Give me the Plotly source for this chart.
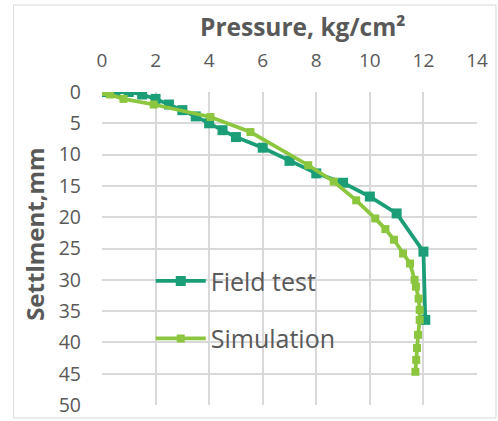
import plotly.graph_objects as go

# Load-settlement data: pressure (kg/cm²) vs settlement (mm)
field_pressure = [0, 0.5, 1.0, 1.5, 2.0, 2.5, 3.0, 3.5, 4.0, 4.5, 5.0, 6.0, 7.0, 8.0, 9.0, 10.0, 11.0, 12.0, 12.07]
field_settlement = [0, 0, 0, 0.4, 1.1, 2.0, 2.9, 3.9, 5.0, 6.1, 7.2, 8.9, 11.0, 13.0, 14.5, 16.7, 19.4, 25.5, 36.4]

sim_pressure = [0, 0.3, 0.8, 1.93, 4.05, 5.54, 7.7, 8.65, 9.49, 10.2, 10.58, 10.9, 11.24, 11.5,
                11.67, 11.72, 11.82, 11.86, 11.86, 11.8, 11.76, 11.73, 11.7]
sim_settlement = [0, 0.4, 1.1, 2.0, 4.0, 6.4, 11.7, 14.3, 17.3, 20.2, 21.9, 23.6, 25.8, 27.4,
                  30.0, 31.1, 33.0, 34.8, 36.4, 38.8, 40.9, 42.8, 44.7]

x_ticks = [0, 2, 4, 6, 8, 10, 12, 14]
y_ticks = [0, 5, 10, 15, 20, 25, 30, 35, 40, 45, 50]

FONT = "'Open Sans', sans-serif"
TEXT = "#595959"
GRID = "#d9d9d9"

fig = go.Figure()
fig.add_trace(go.Scatter(
    x=field_pressure, y=field_settlement, name="Field test", legendgroup="a",
    mode="lines+markers",
    line=dict(color="#1b9e77", width=3.75),
    marker=dict(symbol="square", size=10, color="#1b9e77"),
))
fig.add_trace(go.Scatter(
    x=sim_pressure, y=sim_settlement, name="Simulation", legendgroup="b",
    mode="lines+markers",
    line=dict(color="#8cc63f", width=3.75),
    marker=dict(symbol="square", size=8, color="#8cc63f"),
))

fig.update_layout(
    width=498, height=421,
    margin=dict(l=101.5, r=21, t=92, b=16, autoexpand=False),
    paper_bgcolor="white", plot_bgcolor="white",
    font=dict(family=FONT, color=TEXT),
    showlegend=True,
    legend=dict(
        x=0.13, y=0.469, xanchor="left", yanchor="top",
        bgcolor="rgba(0,0,0,0)",
        font=dict(size=25, color=TEXT, family=FONT),
        tracegroupgap=22, itemwidth=50,
    ),
    xaxis=dict(
        side="top", range=[0, 14], tickvals=x_ticks,
        showgrid=True, gridcolor=GRID, gridwidth=1.5,
        zeroline=False, showline=False, ticks="", automargin=False,
        ticklabelstandoff=20,
        tickfont=dict(size=19, color=TEXT, family=FONT),
    ),
    yaxis=dict(
        range=[50, 0], tickvals=y_ticks,
        showgrid=True, gridcolor=GRID, gridwidth=1.5,
        zeroline=False, showline=False, ticks="", automargin=False,
        ticklabelstandoff=20,
        tickfont=dict(size=19.5, color=TEXT, family=FONT),
    ),
    shapes=[dict(
        type="rect", xref="paper", yref="paper",
        x0=-0.2357, x1=1.0506, y0=-0.0415, y1=1.278,
        line=dict(color=GRID, width=1), fillcolor="rgba(0,0,0,0)", layer="below",
    )],
    annotations=[
        dict(text="<b>Pressure, kg/cm²</b>", xref="paper", yref="paper",
             x=0.537, y=1.21, showarrow=False, xanchor="center", yanchor="middle",
             font=dict(size=24.5, color=TEXT, family=FONT)),
        dict(text="<b>Settlment,mm</b>", xref="paper", yref="paper",
             x=-0.182, y=0.546, showarrow=False, textangle=-90,
             xanchor="center", yanchor="middle",
             font=dict(size=24, color=TEXT, family=FONT)),
    ],
)

fig.write_html("out.html")
